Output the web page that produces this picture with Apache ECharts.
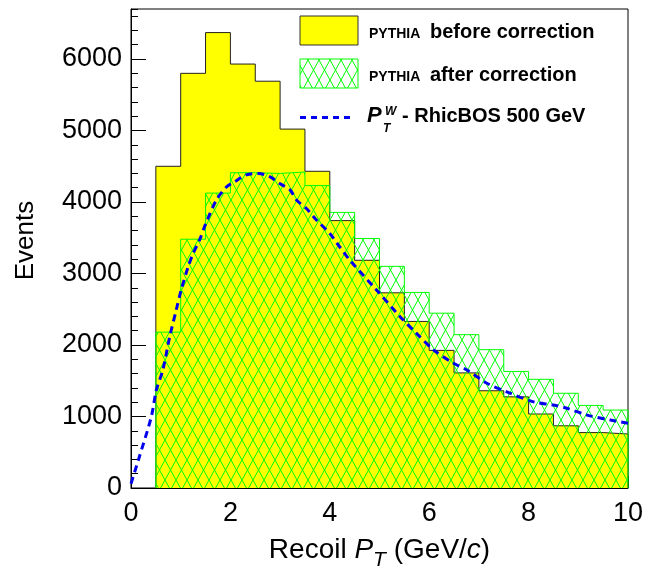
<!DOCTYPE html>
<html><head><meta charset="utf-8">
<script src="https://cdn.jsdelivr.net/npm/echarts@6/dist/echarts.min.js"></script>
<style>html,body{margin:0;padding:0;background:#fff}#c{width:660px;height:570px}</style>
</head><body><div id="c"></div>
<script>
// ---- data ----
const binEdges = [0.5, 1, 1.5, 2, 2.5, 3, 3.5, 4, 4.5, 5, 5.5, 6, 6.5, 7, 7.5, 8, 8.5, 9, 9.5, 10];
const beforeCorrection = [4500, 5800, 6370, 5930, 5690, 5020, 4430, 3740, 3185, 2730, 2330, 1925, 1610, 1360, 1275, 1035, 870, 775, 755];
const afterCorrection = [2180, 3480, 4125, 4410, 4400, 4420, 4230, 3855, 3490, 3100, 2735, 2445, 2145, 1935, 1630, 1520, 1325, 1155, 1090];
const rhicX = [0, 0.17, 0.41, 0.51, 0.64, 0.78, 0.91, 1.01, 1.15, 1.25, 1.38, 1.5, 1.72, 1.92, 2.09, 2.32, 2.56, 2.79, 2.99, 3.2, 3.33, 3.53, 3.73, 4.0, 4.17, 4.4, 4.94, 5.41, 5.75, 6.09, 6.49, 6.76, 7.16, 7.56, 8.1, 8.5, 8.77, 9.18, 9.65, 10.0];
const rhicY = [60, 440, 1000, 1370, 1650, 2120, 2490, 2770, 3095, 3280, 3470, 3690, 4030, 4210, 4285, 4380, 4400, 4355, 4260, 4170, 4030, 3910, 3750, 3560, 3400, 3190, 2770, 2400, 2160, 1930, 1745, 1650, 1465, 1345, 1205, 1160, 1115, 1020, 950, 905];
const xTickLabels = ['0', '2', '4', '6', '8', '10'];
const yTickLabels = ['0', '1000', '2000', '3000', '4000', '5000', '6000'];

const FONT = "'Liberation Sans', Arial, Helvetica, sans-serif";

function stepData(edges, vals) {
  const d = [[edges[0], 0]];
  for (let i = 0; i < vals.length; i++) d.push([edges[i], vals[i]]);
  d.push([edges[edges.length - 1], vals[vals.length - 1]]);
  d.push([edges[edges.length - 1], 0]);
  return d;
}
function hatchCanvas() {
  const w = 11, h = 20;
  const c = document.createElement('canvas');
  c.width = w; c.height = h;
  const g = c.getContext('2d');
  g.strokeStyle = '#00ff00'; g.lineWidth = 1;
  for (const dx of [-w, 0, w]) {
    g.beginPath();
    g.moveTo(dx, h); g.lineTo(dx + w, 0);
    g.moveTo(dx, 0); g.lineTo(dx + w, h);
    g.stroke();
  }
  return c;
}
const hatch = { image: hatchCanvas(), repeat: 'repeat' };

const chart = echarts.init(document.getElementById('c'), null, { renderer: 'canvas' });
const axisBlack = { color: '#000', width: 1 };
chart.setOption({
  animation: false,
  backgroundColor: '#fff',
  grid: { left: 131, right: 32, top: 9, bottom: 82, show: true, borderColor: '#000', borderWidth: 1,
    backgroundColor: 'transparent', containLabel: false, outerBoundsMode: 'none' },
  xAxis: {
    type: 'value', min: 0, max: 10, interval: 2,
    axisLine: { show: true, lineStyle: axisBlack },
    axisTick: { show: true, inside: true, length: 12, lineStyle: axisBlack },
    minorTick: { show: true, splitNumber: 4, length: 6, lineStyle: axisBlack },
    splitLine: { show: false },
    axisLabel: { margin: 12, fontSize: 27, color: '#000', fontFamily: FONT,
      formatter: v => xTickLabels[Math.round(v / 2)] },
    name: '{n|Recoil }{i|P}{s|T}{n| (GeV/}{i|c}{n|)}',
    nameLocation: 'middle', nameGap: 42,
    nameTextStyle: {
      rich: {
        n: { fontSize: 28, color: '#000', fontFamily: FONT },
        i: { fontSize: 28, color: '#000', fontFamily: FONT, fontStyle: 'italic' },
        s: { fontSize: 21, color: '#000', fontFamily: FONT, fontStyle: 'italic', padding: [20, 0, 0, 0] }
      }
    }
  },
  yAxis: [{
    type: 'value', min: 0, max: 6700, interval: 1000, position: 'left',
    axisLine: { show: true, lineStyle: axisBlack },
    axisTick: { show: true, inside: true, length: 15, lineStyle: axisBlack },
    splitLine: { show: false },
    axisLabel: { margin: 9, fontSize: 27, color: '#000', fontFamily: FONT, showMaxLabel: false,
      formatter: v => (v % 1000 === 0 && v / 1000 < yTickLabels.length) ? yTickLabels[v / 1000] : '' },
    name: 'Events', nameLocation: 'middle', nameGap: 92, nameRotate: 90,
    nameTextStyle: { fontSize: 26, color: '#000', fontFamily: FONT, padding: [0, 0, 0, 16] }
  }, {
    type: 'value', min: 0, max: 6700, interval: 200, position: 'left',
    axisLine: { show: false },
    axisTick: { show: true, inside: true, length: 7, lineStyle: axisBlack },
    splitLine: { show: false },
    axisLabel: { show: false }
  }],
  series: [{
    type: 'line', name: 'before', data: stepData(binEdges, beforeCorrection), step: 'end',
    symbol: 'none', silent: true, z: 1,
    lineStyle: { color: '#222', width: 1 },
    areaStyle: { color: '#ffff00', opacity: 1 }
  }, {
    type: 'line', name: 'after', data: stepData(binEdges, afterCorrection), step: 'end',
    symbol: 'none', silent: true, z: 2,
    lineStyle: { color: '#00ff00', width: 1 },
    areaStyle: { color: hatch, opacity: 1 }
  }, {
    type: 'line', name: 'rhic', data: rhicX.map((x, i) => [x, rhicY[i]]), smooth: 0.3,
    symbol: 'none', silent: true, z: 3,
    lineStyle: { color: '#0000ee', width: 3, type: [7, 5] }
  }],
  graphic: [
    { type: 'rect', shape: { x: 300, y: 16, width: 58, height: 29 }, style: { fill: '#ffff00', stroke: '#333', lineWidth: 1 }, z: 10 },
    { type: 'rect', shape: { x: 300, y: 59, width: 58, height: 29 }, style: { fill: hatch, stroke: '#00ff00', lineWidth: 1 }, z: 10 },
    { type: 'line', shape: { x1: 300, y1: 117.5, x2: 354, y2: 117.5 }, style: { stroke: '#0000ee', lineWidth: 3, lineDash: [6, 5] }, z: 10 },
    { type: 'text', x: 369, y: 34, style: { text: 'PYTHIA', font: 'bold 14px ' + FONT, fill: '#000', verticalAlign: 'middle' }, z: 10 },
    { type: 'text', x: 430, y: 32, style: { text: 'before correction', font: 'bold 20px ' + FONT, fill: '#000', verticalAlign: 'middle' }, z: 10 },
    { type: 'text', x: 369, y: 77, style: { text: 'PYTHIA', font: 'bold 14px ' + FONT, fill: '#000', verticalAlign: 'middle' }, z: 10 },
    { type: 'text', x: 430, y: 75, style: { text: 'after correction', font: 'bold 20px ' + FONT, fill: '#000', verticalAlign: 'middle' }, z: 10 },
    { type: 'text', x: 367, y: 116, style: { text: 'P', font: 'italic bold 22px ' + FONT, fill: '#000', verticalAlign: 'middle' }, z: 10 },
    { type: 'text', x: 385, y: 111.5, style: { text: 'W', font: 'italic bold 12px ' + FONT, fill: '#000', verticalAlign: 'middle' }, z: 10 },
    { type: 'text', x: 383, y: 128.5, style: { text: 'T', font: 'italic bold 12px ' + FONT, fill: '#000', verticalAlign: 'middle' }, z: 10 },
    { type: 'text', x: 402, y: 116, style: { text: '- RhicBOS 500 GeV', font: 'bold 20px ' + FONT, fill: '#000', verticalAlign: 'middle' }, z: 10 }
  ]
});
</script></body></html>
